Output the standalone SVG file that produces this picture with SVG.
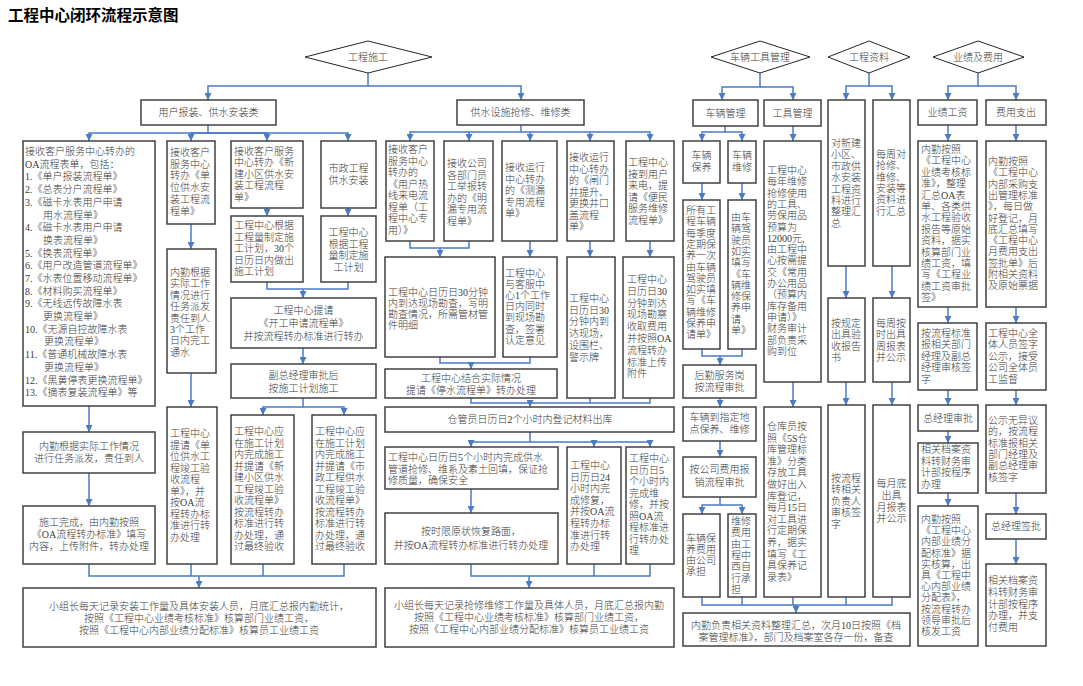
<svg xmlns="http://www.w3.org/2000/svg" width="1083" height="686" viewBox="0 0 1083 686">
<style>
.b{fill:#fff;stroke:#404040;stroke-width:1.5}
.d{fill:#fff;stroke:#262626;stroke-width:1}
.t{font-family:"Liberation Serif","Noto Sans CJK SC",serif;font-size:10px;font-weight:300;fill:#3a3a3a}
.c{text-anchor:middle}
.ln{fill:none;stroke:#4a7bc4;stroke-width:1.5}
.ar{marker-end:url(#a)}
</style>
<defs>
<marker id="a" viewBox="0 0 7 7" refX="7" refY="3.5" markerWidth="7" markerHeight="7" markerUnits="userSpaceOnUse" orient="auto"><path d="M0,0 L7,3.5 L0,7 z" fill="#4a7bc4"/></marker>
</defs>
<rect width="1083" height="686" fill="#fff"/>
<text x="8" y="21" font-family="'Noto Sans CJK SC',sans-serif" font-size="15.5" font-weight="bold" fill="#000">工程中心闭环流程示意图</text>

<g id="connectors">
<path class="ln ar" d="M368,73 V86 H208 V100"/>
<path class="ln ar" d="M368,86 H521 V100"/>
<path class="ln ar" d="M208,125 V133 H89 V141"/>
<path class="ln ar" d="M208,133 H191 V141"/>
<path class="ln ar" d="M208,133 H267 V141"/>
<path class="ln ar" d="M208,133 H348 V141"/>
<path class="ln ar" d="M89,406 V432"/>
<path class="ln ar" d="M89,473 V506"/>
<path class="ln ar" d="M191,224 V249"/>
<path class="ln ar" d="M191,373 V407"/>
<path class="ln ar" d="M267,208 V216"/>
<path class="ln ar" d="M348,208 V216"/>
<path class="ln" d="M267,282 V289 H348 V282"/>
<path class="ln ar" d="M303,289 V298"/>
<path class="ln ar" d="M303,348 V364"/>
<path class="ln ar" d="M303,398 V407 H263 V415"/>
<path class="ln ar" d="M303,407 H344 V415"/>
<path class="ln" d="M89,564 V576 H344 V564"/>
<path class="ln" d="M191,564 V576"/>
<path class="ln" d="M263,564 V576"/>
<path class="ln ar" d="M199,576 V588"/>

<path class="ln ar" d="M521,125 V132 H410 V141"/>
<path class="ln ar" d="M521,132 H650 V141"/>
<path class="ln ar" d="M469,132 V141"/>
<path class="ln ar" d="M530,132 V141"/>
<path class="ln ar" d="M590,132 V141"/>
<path class="ln" d="M410,241 V248 H469 V241"/>
<path class="ln ar" d="M440,248 V257"/>
<path class="ln ar" d="M530,241 V257"/>
<path class="ln ar" d="M590,241 V257"/>
<path class="ln ar" d="M650,241 V257"/>
<path class="ln" d="M440,357 V363 H530 V357"/>
<path class="ln ar" d="M471,363 V369"/>
<path class="ln" d="M471,398 V403 H650 V398"/>
<path class="ln" d="M590,398 V403"/>
<path class="ln ar" d="M530,403 V407"/>
<path class="ln ar" d="M530,432 V442 H471 V447"/>
<path class="ln ar" d="M530,442 H650 V447"/>
<path class="ln ar" d="M594,442 V447"/>
<path class="ln ar" d="M471,489 V513"/>
<path class="ln" d="M471,564 V576 H650 V564"/>
<path class="ln" d="M594,564 V576"/>
<path class="ln ar" d="M529,576 V588"/>

<path class="ln ar" d="M760,73 V87 H722 V100"/>
<path class="ln ar" d="M760,87 H793 V100"/>
<path class="ln ar" d="M725,126 V132 H702 V141"/>
<path class="ln ar" d="M725,132 H742 V141"/>
<path class="ln ar" d="M702,183 V200"/>
<path class="ln ar" d="M742,183 V200"/>
<path class="ln ar" d="M793,126 V141"/>
<path class="ln" d="M702,349 V356 H742 V349"/>
<path class="ln ar" d="M720,356 V365"/>
<path class="ln ar" d="M720,398 V407"/>
<path class="ln ar" d="M720,441 V457"/>
<path class="ln ar" d="M720,497 V505 H702 V514"/>
<path class="ln ar" d="M720,505 H742 V514"/>
<path class="ln ar" d="M793,382 V407"/>
<path class="ln" d="M702,597 V605 H892 V597"/>
<path class="ln" d="M742,597 V605"/>
<path class="ln" d="M793,597 V605"/>
<path class="ln" d="M846,597 V605"/>
<path class="ln ar" d="M796,605 V613"/>

<path class="ln ar" d="M869,73 V86 H846 V100"/>
<path class="ln ar" d="M869,86 H892 V100"/>
<path class="ln ar" d="M846,266 V298"/>
<path class="ln ar" d="M892,266 V298"/>
<path class="ln ar" d="M846,382 V405"/>
<path class="ln ar" d="M892,382 V405"/>

<path class="ln ar" d="M978,73 V86 H948 V100"/>
<path class="ln ar" d="M978,86 H1016 V100"/>
<path class="ln ar" d="M948,125 V141"/>
<path class="ln ar" d="M1016,125 V141"/>
<path class="ln ar" d="M948,307 V323"/>
<path class="ln ar" d="M1016,307 V323"/>
<path class="ln ar" d="M948,390 V405"/>
<path class="ln ar" d="M1016,390 V405"/>
<path class="ln ar" d="M948,431 V443"/>
<path class="ln ar" d="M948,493 V506"/>
<path class="ln ar" d="M1016,493 V514"/>
<path class="ln ar" d="M1016,539 V564"/>
</g>

<g id="d-gcsg"><polygon class="d" points="305,57 368,41 432,57 368,73"/><text class="t c" x="368" y="61">工程施工</text></g>
<g id="d-clgj"><polygon class="d" points="711,57 760,41 810,57 760,73"/><text class="t c" x="760" y="61">车辆工具管理</text></g>
<g id="d-gczl"><polygon class="d" points="828,57 869,41 910,57 869,73"/><text class="t c" x="869" y="61">工程资料</text></g>
<g id="d-yjfy"><polygon class="d" points="933,57 978,41 1024,57 978,73"/><text class="t c" x="978" y="61">业绩及费用</text></g>

<g id="h-ybz"><rect class="b" x="141" y="100" width="135" height="25"/><text class="t c" x="208.5" y="116">用户报装、供水安装类</text></g>
<g id="h-qx"><rect class="b" x="457" y="100" width="127" height="25"/><text class="t c" x="520.5" y="116">供水设施抢修、维修类</text></g>
<g id="h-clgl"><rect class="b" x="693" y="100" width="65" height="26"/><text class="t c" x="725.5" y="117">车辆管理</text></g>
<g id="h-gjgl"><rect class="b" x="764" y="100" width="57" height="26"/><text class="t c" x="792.5" y="117">工具管理</text></g>
<g id="h-yjgz"><rect class="b" x="918" y="100" width="59" height="25"/><text class="t c" x="947.5" y="116">业绩工资</text></g>
<g id="h-fyzc"><rect class="b" x="986" y="100" width="60" height="25"/><text class="t c" x="1016" y="116">费用支出</text></g>

<g id="n-a"><rect class="b" x="23" y="141" width="132" height="265"/>
<text class="t" x="25" y="155"><tspan x="25">接收客户服务中心转办的</tspan><tspan x="25" dy="12.7">OA流程表单，包括：</tspan><tspan x="25" dy="12.7">1.《单户报装流程单》</tspan><tspan x="25" dy="12.7">2.《总表分户流程单》</tspan><tspan x="25" dy="12.7">3.《磁卡水表用户申请</tspan><tspan x="43" dy="12.7">用水流程单》</tspan><tspan x="25" dy="12.7">4.《磁卡水表用户申请</tspan><tspan x="43" dy="12.7">换表流程单》</tspan><tspan x="25" dy="12.7">5.《换表流程单》</tspan><tspan x="25" dy="12.7">6.《用户改造管道流程单》</tspan><tspan x="25" dy="12.7">7.《水表位置移动流程单》</tspan><tspan x="25" dy="12.7">8.《材料购买流程单》</tspan><tspan x="25" dy="12.7">9.《无线远传故障水表</tspan><tspan x="43" dy="12.7">更换流程单》</tspan><tspan x="25" dy="12.7">10.《无源自控故障水表</tspan><tspan x="44" dy="12.7">更换流程单》</tspan><tspan x="25" dy="12.7">11.《普通机械故障水表</tspan><tspan x="44" dy="12.7">更换流程单》</tspan><tspan x="25" dy="12.7">12.《黑黄停表更换流程单》</tspan><tspan x="25" dy="12.7">13.《摘表复装流程单》等</tspan></text></g>

<g id="n-b"><rect class="b" x="167" y="141" width="48" height="83"/>
<text class="t" x="170" y="156"><tspan x="170">接收客户</tspan><tspan x="170" dy="11.7">服务中心</tspan><tspan x="170" dy="11.7">转办《单</tspan><tspan x="170" dy="11.7">位供水安</tspan><tspan x="170" dy="11.7">装工程流</tspan><tspan x="170" dy="11.7">程单》</tspan></text></g>
<g id="n-b2"><rect class="b" x="167" y="249" width="49" height="124"/>
<text class="t" x="170" y="276"><tspan x="170">内勤根据</tspan><tspan x="170" dy="11.4">实际工作</tspan><tspan x="170" dy="11.4">情况进行</tspan><tspan x="170" dy="11.4">任务派发</tspan><tspan x="170" dy="11.4">责任到人</tspan><tspan x="170" dy="11.4">3个工作</tspan><tspan x="170" dy="11.4">日内完工</tspan><tspan x="170" dy="11.4">通水</tspan></text></g>
<g id="n-b3"><rect class="b" x="167" y="407" width="50" height="157"/>
<text class="t" x="170" y="437"><tspan x="170">工程中心</tspan><tspan x="170" dy="11.5">提请《单</tspan><tspan x="170" dy="11.5">位供水工</tspan><tspan x="170" dy="11.5">程竣工验</tspan><tspan x="170" dy="11.5">收流程</tspan><tspan x="170" dy="11.5">单》，并</tspan><tspan x="170" dy="11.5">按OA流</tspan><tspan x="170" dy="11.5">程转办标</tspan><tspan x="170" dy="11.5">准进行转</tspan><tspan x="170" dy="11.5">办处理</tspan></text></g>
<g id="n-c"><rect class="b" x="231" y="141" width="72" height="67"/>
<text class="t" x="234" y="155"><tspan x="234">接收客户服务</tspan><tspan x="234" dy="11.4">中心转办《新</tspan><tspan x="234" dy="11.4">建小区供水安</tspan><tspan x="234" dy="11.4">装工程流程</tspan><tspan x="234" dy="11.4">单》</tspan></text></g>
<g id="n-c2"><rect class="b" x="231" y="216" width="72" height="66"/>
<text class="t" x="234" y="229"><tspan x="234">工程中心根据</tspan><tspan x="234" dy="11.6">工程量制定施</tspan><tspan x="234" dy="11.6">工计划，30个</tspan><tspan x="234" dy="11.6">日历日内做出</tspan><tspan x="234" dy="11.6">施工计划</tspan></text></g>
<g id="n-d"><rect class="b" x="321" y="141" width="55" height="67"/>
<text class="t c" x="348.5" y="172"><tspan x="348.5">市政工程</tspan><tspan x="348.5" dy="12">供水安装</tspan></text></g>
<g id="n-d2"><rect class="b" x="321" y="216" width="55" height="66"/>
<text class="t c" x="348.5" y="236"><tspan x="348.5">工程中心</tspan><tspan x="348.5" dy="11.5">根据工程</tspan><tspan x="348.5" dy="11.5">量制定施</tspan><tspan x="348.5" dy="11.5">工计划</tspan></text></g>
<g id="n-e"><rect class="b" x="231" y="298" width="145" height="50"/>
<text class="t c" x="303.5" y="314"><tspan x="303.5">工程中心提请</tspan><tspan x="303.5" dy="13">《开工申请流程单》</tspan><tspan x="303.5" dy="13">并按流程转办标准进行转办</tspan></text></g>
<g id="n-f"><rect class="b" x="231" y="364" width="145" height="34"/>
<text class="t c" x="303.5" y="379"><tspan x="303.5">副总经理审批后</tspan><tspan x="303.5" dy="13">按施工计划施工</tspan></text></g>
<g id="n-g"><rect class="b" x="231" y="415" width="63" height="149"/>
<text class="t" x="234" y="435"><tspan x="234">工程中心应</tspan><tspan x="234" dy="11.5">在施工计划</tspan><tspan x="234" dy="11.5">内完成施工</tspan><tspan x="234" dy="11.5">并提请《新</tspan><tspan x="234" dy="11.5">建小区供水</tspan><tspan x="234" dy="11.5">工程竣工验</tspan><tspan x="234" dy="11.5">收流程单》</tspan><tspan x="234" dy="11.5">按流程转办</tspan><tspan x="234" dy="11.5">标准进行转</tspan><tspan x="234" dy="11.5">办处理，通</tspan><tspan x="234" dy="11.5">过最终验收</tspan></text></g>
<g id="n-h"><rect class="b" x="312" y="415" width="64" height="149"/>
<text class="t" x="315" y="435"><tspan x="315">工程中心应</tspan><tspan x="315" dy="11.5">在施工计划</tspan><tspan x="315" dy="11.5">内完成施工</tspan><tspan x="315" dy="11.5">并提请《市</tspan><tspan x="315" dy="11.5">政工程供水</tspan><tspan x="315" dy="11.5">工程竣工验</tspan><tspan x="315" dy="11.5">收流程单》</tspan><tspan x="315" dy="11.5">按流程转办</tspan><tspan x="315" dy="11.5">标准进行转</tspan><tspan x="315" dy="11.5">办处理，通</tspan><tspan x="315" dy="11.5">过最终验收</tspan></text></g>
<g id="n-i"><rect class="b" x="23" y="432" width="132" height="41"/>
<text class="t c" x="89" y="450"><tspan x="89">内勤根据实际工作情况</tspan><tspan x="89" dy="12">进行任务派发，责任到人</tspan></text></g>
<g id="n-j"><rect class="b" x="23" y="506" width="132" height="58"/>
<text class="t c" x="89" y="526"><tspan x="89">施工完成，由内勤按照</tspan><tspan x="89" dy="12">《OA流程转办标准》填写</tspan><tspan x="89" dy="12">内容，上传附件，转办处理</tspan></text></g>
<g id="n-k"><rect class="b" x="23" y="588" width="353" height="59"/>
<text class="t c" x="199" y="610"><tspan x="199">小组长每天记录安装工作量及具体安装人员，月底汇总报内勤统计，</tspan><tspan x="199" dy="12">按照《工程中心业绩考核标准》核算部门业绩工资，</tspan><tspan x="199" dy="12">按照《工程中心内部业绩分配标准》核算员工业绩工资</tspan></text></g>

<g id="n-m1"><rect class="b" x="386" y="141" width="48" height="100"/>
<text class="t" x="388" y="153"><tspan x="388">接收客户</tspan><tspan x="388" dy="11.5">服务中心</tspan><tspan x="388" dy="11.5">转办的</tspan><tspan x="388" dy="11.5">《用户热</tspan><tspan x="388" dy="11.5">线来电流</tspan><tspan x="388" dy="11.5">程单（工</tspan><tspan x="388" dy="11.5">程中心专</tspan><tspan x="388" dy="11.5">用）》</tspan></text></g>
<g id="n-m2"><rect class="b" x="444" y="141" width="49" height="100"/>
<text class="t" x="447" y="167"><tspan x="447">接收公司</tspan><tspan x="447" dy="11.5">各部门员</tspan><tspan x="447" dy="11.5">工举报转</tspan><tspan x="447" dy="11.5">办的《明</tspan><tspan x="447" dy="11.5">漏专用流</tspan><tspan x="447" dy="11.5">程单》</tspan></text></g>
<g id="n-m3"><rect class="b" x="502" y="141" width="55" height="100"/>
<text class="t" x="505" y="171"><tspan x="505">接收运行</tspan><tspan x="505" dy="11.5">中心转办</tspan><tspan x="505" dy="11.5">的《测漏</tspan><tspan x="505" dy="11.5">专用流程</tspan><tspan x="505" dy="11.5">单》</tspan></text></g>
<g id="n-m4"><rect class="b" x="567" y="141" width="47" height="100"/>
<text class="t" x="569" y="161"><tspan x="569">接收运行</tspan><tspan x="569" dy="11.5">中心转办</tspan><tspan x="569" dy="11.5">的《闸门</tspan><tspan x="569" dy="11.5">井提升、</tspan><tspan x="569" dy="11.5">更换井口</tspan><tspan x="569" dy="11.5">盖流程</tspan><tspan x="569" dy="11.5">单》</tspan></text></g>
<g id="n-m5"><rect class="b" x="626" y="141" width="48" height="100"/>
<text class="t" x="628" y="166"><tspan x="628">工程中心</tspan><tspan x="628" dy="11.5">接到用户</tspan><tspan x="628" dy="11.5">来电，提</tspan><tspan x="628" dy="11.5">请《便民</tspan><tspan x="628" dy="11.5">服务维修</tspan><tspan x="628" dy="11.5">流程单》</tspan></text></g>
<g id="n-n1"><rect class="b" x="385" y="257" width="110" height="100"/>
<text class="t" x="388" y="296"><tspan x="388">工程中心日历日30分钟</tspan><tspan x="388" dy="11">内到达现场勘查，写明</tspan><tspan x="388" dy="11">勘查情况，所需管材管</tspan><tspan x="388" dy="11">件明细</tspan></text></g>
<g id="n-n3"><rect class="b" x="503" y="257" width="54" height="100"/>
<text class="t" x="505" y="277"><tspan x="505">工程中心</tspan><tspan x="505" dy="11.1">与客服中</tspan><tspan x="505" dy="11.1">心1个工作</tspan><tspan x="505" dy="11.1">日内同时</tspan><tspan x="505" dy="11.1">到现场勘</tspan><tspan x="505" dy="11.1">查，签署</tspan><tspan x="505" dy="11.1">认定意见</tspan></text></g>
<g id="n-n4"><rect class="b" x="567" y="257" width="48" height="141"/>
<text class="t" x="569" y="302"><tspan x="569">工程中心</tspan><tspan x="569" dy="11.7">日历日30</tspan><tspan x="569" dy="11.7">分钟内到</tspan><tspan x="569" dy="11.7">达现场，</tspan><tspan x="569" dy="11.7">设围栏、</tspan><tspan x="569" dy="11.7">警示牌</tspan></text></g>
<g id="n-n5"><rect class="b" x="623" y="257" width="51" height="141"/>
<text class="t" x="627" y="283"><tspan x="627">工程中心</tspan><tspan x="627" dy="11.8">日历日30</tspan><tspan x="627" dy="11.8">分钟到达</tspan><tspan x="627" dy="11.8">现场勘察</tspan><tspan x="627" dy="11.8">收取费用</tspan><tspan x="627" dy="11.8">并按照OA</tspan><tspan x="627" dy="11.8">流程转办</tspan><tspan x="627" dy="11.8">标准上传</tspan><tspan x="627" dy="11.8">附件</tspan></text></g>
<g id="n-o"><rect class="b" x="385" y="369" width="172" height="29"/>
<text class="t c" x="471" y="382"><tspan x="471">工程中心结合实际情况</tspan><tspan x="471" dy="12">提请《停水流程单》转办处理</tspan></text></g>
<g id="n-p"><rect class="b" x="385" y="407" width="289" height="25"/>
<text class="t c" x="530" y="423">仓管员日历日2个小时内登记材料出库</text></g>
<g id="n-q1"><rect class="b" x="385" y="447" width="173" height="42"/>
<text class="t" x="388" y="461"><tspan x="388">工程中心日历日5个小时内完成供水</tspan><tspan x="388" dy="11.7">管道抢修、维系及素土回填，保证抢</tspan><tspan x="388" dy="11.7">修质量，确保安全</tspan></text></g>
<g id="n-q2"><rect class="b" x="567" y="447" width="54" height="117"/>
<text class="t" x="570" y="469"><tspan x="570">工程中心</tspan><tspan x="570" dy="11.6">日历日24</tspan><tspan x="570" dy="11.6">小时内完</tspan><tspan x="570" dy="11.6">成修复，</tspan><tspan x="570" dy="11.6">并按OA流</tspan><tspan x="570" dy="11.6">程转办标</tspan><tspan x="570" dy="11.6">准进行转</tspan><tspan x="570" dy="11.6">办处理</tspan></text></g>
<g id="n-q3"><rect class="b" x="626" y="447" width="48" height="117"/>
<text class="t" x="629" y="462"><tspan x="629">工程中心</tspan><tspan x="629" dy="11.5">日历日5</tspan><tspan x="629" dy="11.5">个小时内</tspan><tspan x="629" dy="11.5">完成维</tspan><tspan x="629" dy="11.5">修，并按</tspan><tspan x="629" dy="11.5">照OA流</tspan><tspan x="629" dy="11.5">程标准进</tspan><tspan x="629" dy="11.5">行转办处</tspan><tspan x="629" dy="11.5">理</tspan></text></g>
<g id="n-r"><rect class="b" x="385" y="513" width="173" height="51"/>
<text class="t c" x="471" y="535"><tspan x="471">按时限原状恢复路面，</tspan><tspan x="471" dy="14">并按OA流程转办标准进行转办处理</tspan></text></g>
<g id="n-s"><rect class="b" x="385" y="588" width="289" height="59"/>
<text class="t c" x="529" y="609"><tspan x="529">小组长每天记录抢修维修工作量及具体人员，月底汇总报内勤</tspan><tspan x="529" dy="12">按照《工程中心业绩考核标准》核算部门业绩工资，</tspan><tspan x="529" dy="12">按照《工程中心内部业绩分配标准》核算员工业绩工资</tspan></text></g>

<g id="n-clby"><rect class="b" x="683" y="141" width="37" height="42"/>
<text class="t c" x="701.5" y="159"><tspan x="701.5">车辆</tspan><tspan x="701.5" dy="12">保养</tspan></text></g>
<g id="n-clwx"><rect class="b" x="728" y="141" width="28" height="42"/>
<text class="t c" x="742" y="159"><tspan x="742">车辆</tspan><tspan x="742" dy="12">维修</tspan></text></g>
<g id="n-v1"><rect class="b" x="683" y="200" width="37" height="149"/>
<text class="t" x="686" y="214"><tspan x="686">所有工</tspan><tspan x="686" dy="11.3">程车辆</tspan><tspan x="686" dy="11.3">每季度</tspan><tspan x="686" dy="11.3">定期保</tspan><tspan x="686" dy="11.3">养一次</tspan><tspan x="686" dy="11.3">由车辆</tspan><tspan x="686" dy="11.3">驾驶员</tspan><tspan x="686" dy="11.3">如实填</tspan><tspan x="686" dy="11.3">写《车</tspan><tspan x="686" dy="11.3">辆维修</tspan><tspan x="686" dy="11.3">保养申</tspan><tspan x="686" dy="11.3">请单》</tspan></text></g>
<g id="n-v2"><rect class="b" x="728" y="200" width="28" height="149"/>
<text class="t" x="731" y="221"><tspan x="731">由车</tspan><tspan x="731" dy="11.3">辆驾</tspan><tspan x="731" dy="11.3">驶员</tspan><tspan x="731" dy="11.3">如实</tspan><tspan x="731" dy="11.3">填写</tspan><tspan x="731" dy="11.3">《车</tspan><tspan x="731" dy="11.3">辆维</tspan><tspan x="731" dy="11.3">修保</tspan><tspan x="731" dy="11.3">养申</tspan><tspan x="731" dy="11.3">请</tspan><tspan x="731" dy="11.3">单》</tspan></text></g>
<g id="n-w1"><rect class="b" x="764" y="141" width="57" height="241"/>
<text class="t" x="767" y="174"><tspan x="767">工程中心</tspan><tspan x="767" dy="11.3">每年维修</tspan><tspan x="767" dy="11.3">抢修使用</tspan><tspan x="767" dy="11.3">的工具、</tspan><tspan x="767" dy="11.3">劳保用品</tspan><tspan x="767" dy="11.3">预算为</tspan><tspan x="767" dy="11.3">12000元,</tspan><tspan x="767" dy="11.3">由工程中</tspan><tspan x="767" dy="11.3">心按需提</tspan><tspan x="767" dy="11.3">交《常用</tspan><tspan x="767" dy="11.3">办公用品</tspan><tspan x="767" dy="11.3">（预算内</tspan><tspan x="767" dy="11.3">库存备用</tspan><tspan x="767" dy="11.3">申请）》</tspan><tspan x="767" dy="11.3">财务审计</tspan><tspan x="767" dy="11.3">部负责采</tspan><tspan x="767" dy="11.3">购到位</tspan></text></g>
<g id="n-hq"><rect class="b" x="683" y="365" width="73" height="33"/>
<text class="t c" x="719.5" y="379"><tspan x="719.5">后勤服务岗</tspan><tspan x="719.5" dy="12">按流程审批</tspan></text></g>
<g id="n-zd"><rect class="b" x="683" y="407" width="73" height="34"/>
<text class="t c" x="719.5" y="421"><tspan x="719.5">车辆到指定地</tspan><tspan x="719.5" dy="12">点保养、维修</tspan></text></g>
<g id="n-bx"><rect class="b" x="683" y="457" width="73" height="40"/>
<text class="t c" x="719.5" y="473"><tspan x="719.5">按公司费用报</tspan><tspan x="719.5" dy="13">销流程审批</tspan></text></g>
<g id="n-v3"><rect class="b" x="683" y="514" width="37" height="83"/>
<text class="t" x="686" y="542"><tspan x="686">车辆保</tspan><tspan x="686" dy="11">养费用</tspan><tspan x="686" dy="11">由公司</tspan><tspan x="686" dy="11">承担</tspan></text></g>
<g id="n-v4"><rect class="b" x="728" y="514" width="28" height="83"/>
<text class="t" x="731" y="525"><tspan x="731">维修</tspan><tspan x="731" dy="11.3">费用</tspan><tspan x="731" dy="11.3">由工</tspan><tspan x="731" dy="11.3">程中</tspan><tspan x="731" dy="11.3">西自</tspan><tspan x="731" dy="11.3">行承</tspan><tspan x="731" dy="11.3">担</tspan></text></g>
<g id="n-w2"><rect class="b" x="764" y="407" width="57" height="190"/>
<text class="t" x="767" y="430"><tspan x="767">仓库员按</tspan><tspan x="767" dy="11.6">照《5S仓</tspan><tspan x="767" dy="11.6">库管理标</tspan><tspan x="767" dy="11.6">准》分类</tspan><tspan x="767" dy="11.6">存放工具</tspan><tspan x="767" dy="11.6">做好出入</tspan><tspan x="767" dy="11.6">库登记，</tspan><tspan x="767" dy="11.6">每月15日</tspan><tspan x="767" dy="11.6">对工具进</tspan><tspan x="767" dy="11.6">行定期保</tspan><tspan x="767" dy="11.6">养，据实</tspan><tspan x="767" dy="11.6">填写《工</tspan><tspan x="767" dy="11.6">具保养记</tspan><tspan x="767" dy="11.6">录表》</tspan></text></g>
<g id="n-t"><rect class="b" x="683" y="613" width="227" height="33"/>
<text class="t c" x="796" y="629"><tspan x="796">内勤负责相关资料整理汇总，次月10日按照《档</tspan><tspan x="796" dy="12">案管理标准》，部门及档案室各存一份，备查</tspan></text></g>

<g id="n-z1"><rect class="b" x="828" y="100" width="37" height="166"/>
<text class="t" x="831" y="147"><tspan x="831">对新建</tspan><tspan x="831" dy="11.4">小区、</tspan><tspan x="831" dy="11.4">市政供</tspan><tspan x="831" dy="11.4">水安装</tspan><tspan x="831" dy="11.4">工程资</tspan><tspan x="831" dy="11.4">料进行</tspan><tspan x="831" dy="11.4">整理汇</tspan><tspan x="831" dy="11.4">总</tspan></text></g>
<g id="n-z2"><rect class="b" x="873" y="100" width="37" height="166"/>
<text class="t" x="876" y="158"><tspan x="876">每周对</tspan><tspan x="876" dy="11.3">抢修、</tspan><tspan x="876" dy="11.3">维修、</tspan><tspan x="876" dy="11.3">安装等</tspan><tspan x="876" dy="11.3">资料进</tspan><tspan x="876" dy="11.3">行汇总</tspan></text></g>
<g id="n-z3"><rect class="b" x="828" y="298" width="37" height="84"/>
<text class="t" x="831" y="327"><tspan x="831">按规定</tspan><tspan x="831" dy="11.3">出具验</tspan><tspan x="831" dy="11.3">收报告</tspan><tspan x="831" dy="11.3">书</tspan></text></g>
<g id="n-z4"><rect class="b" x="873" y="298" width="37" height="84"/>
<text class="t" x="876" y="327"><tspan x="876">每周按</tspan><tspan x="876" dy="11.3">时出具</tspan><tspan x="876" dy="11.3">周报表</tspan><tspan x="876" dy="11.3">并公示</tspan></text></g>
<g id="n-z5"><rect class="b" x="828" y="405" width="37" height="192"/>
<text class="t" x="831" y="482"><tspan x="831">按流程</tspan><tspan x="831" dy="11.4">转相关</tspan><tspan x="831" dy="11.4">负责人</tspan><tspan x="831" dy="11.4">审核签</tspan><tspan x="831" dy="11.4">字</tspan></text></g>
<g id="n-z6"><rect class="b" x="873" y="405" width="37" height="192"/>
<text class="t c" x="891.5" y="487"><tspan x="891.5">每月底</tspan><tspan x="891.5" dy="11.8">出具</tspan><tspan x="891.5" dy="11.8">月报表</tspan><tspan x="891.5" dy="11.8">并公示</tspan></text></g>

<g id="n-y1"><rect class="b" x="918" y="141" width="59" height="166"/>
<text class="t" x="921" y="153"><tspan x="921">内勤按照</tspan><tspan x="921" dy="11.4">《工程中心</tspan><tspan x="921" dy="11.4">业绩考核标</tspan><tspan x="921" dy="11.4">准》，整理</tspan><tspan x="921" dy="11.4">汇总OA表</tspan><tspan x="921" dy="11.4">单、各类供</tspan><tspan x="921" dy="11.4">水工程验收</tspan><tspan x="921" dy="11.4">报告等原始</tspan><tspan x="921" dy="11.4">资料，据实</tspan><tspan x="921" dy="11.4">核算部门业</tspan><tspan x="921" dy="11.4">绩工资，填</tspan><tspan x="921" dy="11.4">写《工程业</tspan><tspan x="921" dy="11.4">绩工资审批</tspan><tspan x="921" dy="11.4">签》</tspan></text></g>
<g id="n-y2"><rect class="b" x="986" y="141" width="60" height="166"/>
<text class="t" x="988" y="165"><tspan x="988">内勤按照</tspan><tspan x="988" dy="11.3">《工程中心</tspan><tspan x="988" dy="11.3">内部采购支</tspan><tspan x="988" dy="11.3">出管理标准</tspan><tspan x="988" dy="11.3">》，每日做</tspan><tspan x="988" dy="11.3">好登记，月</tspan><tspan x="988" dy="11.3">底汇总填写</tspan><tspan x="988" dy="11.3">《工程中心</tspan><tspan x="988" dy="11.3">月费用支出</tspan><tspan x="988" dy="11.3">签批单》后</tspan><tspan x="988" dy="11.3">附相关资料</tspan><tspan x="988" dy="11.3">及原始票据</tspan></text></g>
<g id="n-y3"><rect class="b" x="918" y="323" width="59" height="67"/>
<text class="t" x="921" y="337"><tspan x="921">按流程标准</tspan><tspan x="921" dy="11.4">报相关部门</tspan><tspan x="921" dy="11.4">经理及副总</tspan><tspan x="921" dy="11.4">经理审核签</tspan><tspan x="921" dy="11.4">字</tspan></text></g>
<g id="n-y4"><rect class="b" x="986" y="323" width="60" height="67"/>
<text class="t" x="988" y="337"><tspan x="988">工程中心全</tspan><tspan x="988" dy="11.4">体人员签字</tspan><tspan x="988" dy="11.4">公示，接受</tspan><tspan x="988" dy="11.4">公司全体员</tspan><tspan x="988" dy="11.4">工监督</tspan></text></g>
<g id="n-y5"><rect class="b" x="918" y="405" width="60" height="26"/>
<text class="t c" x="948" y="422">总经理审批</text></g>
<g id="n-y6"><rect class="b" x="918" y="443" width="60" height="50"/>
<text class="t" x="921" y="453"><tspan x="921">相关档案资</tspan><tspan x="921" dy="11.6">料转财务审</tspan><tspan x="921" dy="11.6">计部按程序</tspan><tspan x="921" dy="11.6">办理</tspan></text></g>
<g id="n-y7"><rect class="b" x="918" y="506" width="60" height="140"/>
<text class="t" x="921" y="523"><tspan x="921">内勤按照</tspan><tspan x="921" dy="11.2">《工程中心</tspan><tspan x="921" dy="11.2">内部业绩分</tspan><tspan x="921" dy="11.2">配标准》据</tspan><tspan x="921" dy="11.2">实核算，出</tspan><tspan x="921" dy="11.2">具《工程中</tspan><tspan x="921" dy="11.2">心内部业绩</tspan><tspan x="921" dy="11.2">分配表》，</tspan><tspan x="921" dy="11.2">按流程转办</tspan><tspan x="921" dy="11.2">领导审批后</tspan><tspan x="921" dy="11.2">核发工资</tspan></text></g>
<g id="n-y8"><rect class="b" x="986" y="405" width="60" height="88"/>
<text class="t" x="988" y="424"><tspan x="988">公示无异议</tspan><tspan x="988" dy="11.3">的，按流程</tspan><tspan x="988" dy="11.3">标准报相关</tspan><tspan x="988" dy="11.3">部门经理及</tspan><tspan x="988" dy="11.3">副总经理审</tspan><tspan x="988" dy="11.3">核签字</tspan></text></g>
<g id="n-y9"><rect class="b" x="986" y="514" width="60" height="25"/>
<text class="t c" x="1016" y="530">总经理签批</text></g>
<g id="n-y10"><rect class="b" x="986" y="564" width="60" height="82"/>
<text class="t" x="988" y="584"><tspan x="988">相关档案资</tspan><tspan x="988" dy="11.8">料转财务审</tspan><tspan x="988" dy="11.8">计部按程序</tspan><tspan x="988" dy="11.8">办理，并支</tspan><tspan x="988" dy="11.8">付费用</tspan></text></g>
</svg>
